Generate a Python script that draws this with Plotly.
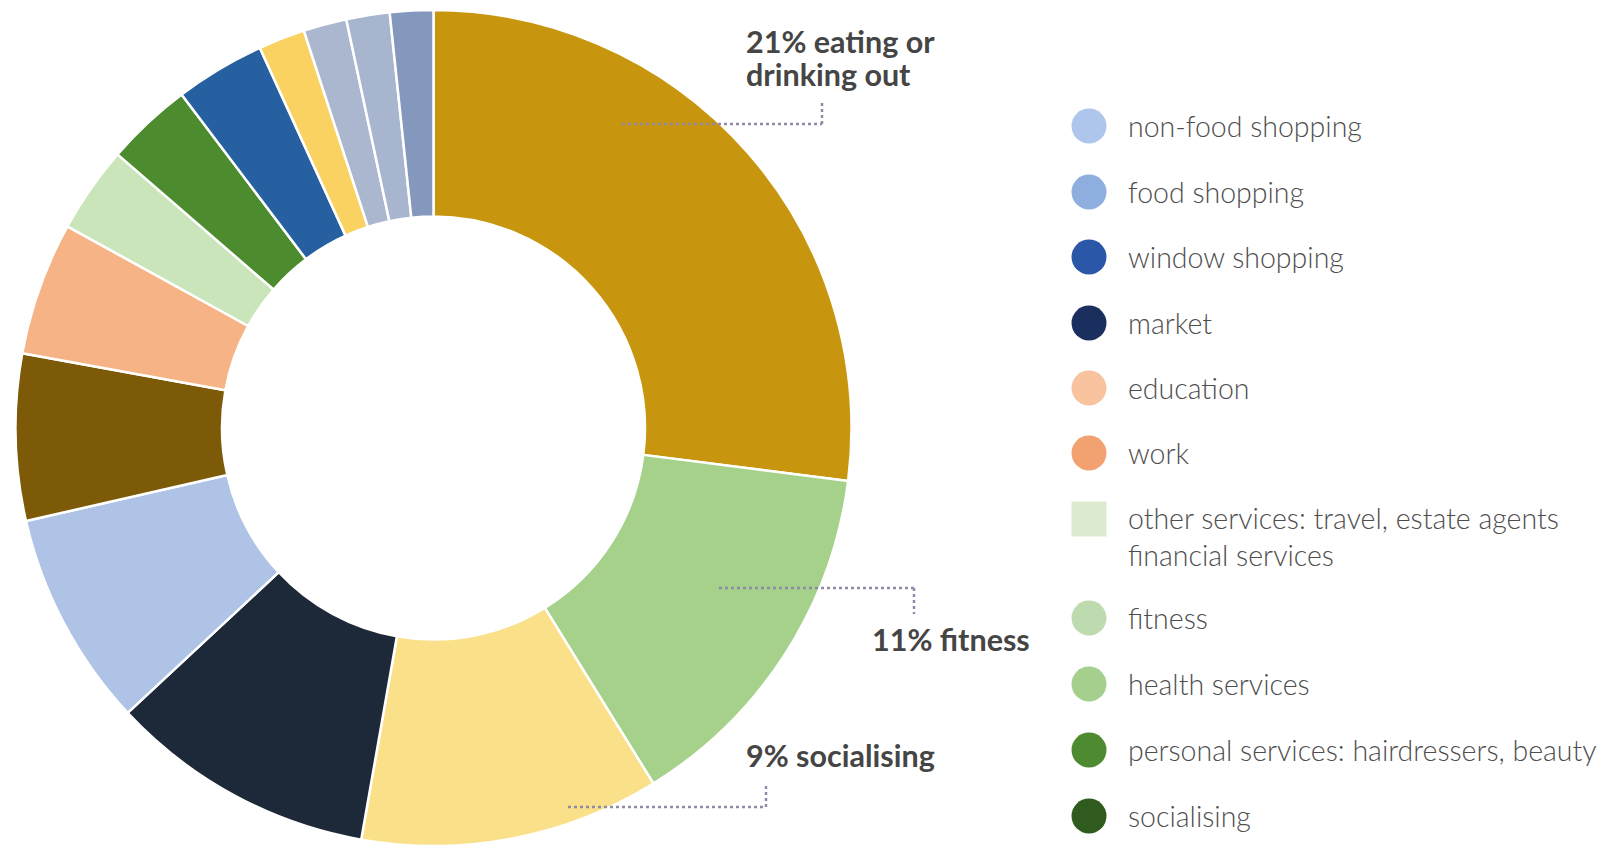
import plotly.graph_objects as go

# Donut slices, clockwise from 12 o'clock
slice_names = [
    "eating or drinking out", "fitness", "socialising", "market",
    "non-food shopping", "leisure", "education", "other services",
    "personal services", "window shopping", "culture", "food shopping",
    "convenience", "other",
]
slice_values = [21, 11, 9, 8, 6.5, 5, 4, 2.6, 2.6, 2.7, 1.4, 1.3, 1.3, 1.3]
slice_colors = [
    "#C7960E", "#A5D18B", "#FBE08A", "#1D2838", "#AEC3E5", "#7D5A08",
    "#F6B486", "#C9E5B9", "#4C8B2E", "#2760A0", "#F9D262", "#ABB7CF",
    "#A8B5CF", "#8498BD",
]

# Legend entries on the right
legend_labels = [
    "non-food shopping", "food shopping", "window shopping", "market",
    "education", "work", "other services: travel, estate agents<br>financial services",
    "fitness", "health services", "personal services: hairdressers, beauty",
    "socialising",
]
legend_colors = [
    "#AFC6EC", "#8EAEE0", "#2B57A8", "#1B2F5E", "#F8C39E", "#F2A171",
    "#DCEBD0", "#BEDBAF", "#A4CF8D", "#4E8A2F", "#2F5B1F",
]
legend_marker = ["circle"] * 6 + ["square"] + ["circle"] * 4
legend_y = [126, 192, 257, 323, 388, 453, 519, 618, 684, 750, 816]

# Callout label lines
callout_lines = ["21% eating or", "drinking out", "11% fitness", "9% socialising"]
callout_pos = [(744, 41), (744, 74), (870, 639), (744, 755)]

W, H = 1611, 847
cx, cy, r_out = 433.5, 428, 418

fig = go.Figure()
fig.add_trace(go.Pie(
    labels=slice_names,
    values=slice_values,
    marker=dict(colors=slice_colors, line=dict(color="white", width=2.5)),
    hole=0.506,
    sort=False,
    direction="clockwise",
    rotation=0,
    textinfo="none",
    hoverinfo="label+value",
    showlegend=False,
    domain=dict(
        x=[(cx - r_out) / W, (cx + r_out) / W],
        y=[(H - cy - r_out) / H, (H - cy + r_out) / H],
    ),
))

shapes = []
annotations = []

# Legend markers and text
lx, lr, tx = 1089, 17.5, 1126
for lab, col, mk, y in zip(legend_labels, legend_colors, legend_marker, legend_y):
    shapes.append(dict(
        type="circle" if mk == "circle" else "rect", xref="x", yref="y",
        x0=lx - lr, x1=lx + lr, y0=y - lr, y1=y + lr,
        fillcolor=col, line=dict(width=0), layer="above",
    ))
    two_line = "<br>" in lab
    annotations.append(dict(
        x=tx, y=(y + 17) if two_line else y, xref="x", yref="y",
        text=lab, showarrow=False, xanchor="left", yanchor="middle",
        align="left",
        font=dict(family="Lato", size=28.5, color="#4e4e4e", weight=300),
    ))

# Dotted leader lines
dot = dict(color="#8f8aa8", width=2.5, dash="dot")
leaders = [
    [(622, 124), (822, 124), (822, 101)],
    [(719, 588), (914, 588), (914, 614)],
    [(568, 807), (766, 807), (766, 786)],
]
for pts in leaders:
    for (x0, y0), (x1, y1) in zip(pts[:-1], pts[1:]):
        shapes.append(dict(type="line", xref="x", yref="y",
                           x0=x0, y0=y0, x1=x1, y1=y1, line=dot, layer="above"))

label_font = dict(family="Lato", size=30.5, color="#454545", weight=700)
for txt, (x, y) in zip(callout_lines, callout_pos):
    annotations.append(dict(x=x, y=y, xref="x", yref="y", text=txt,
                            showarrow=False, xanchor="left", yanchor="middle",
                            align="left", font=label_font))

fig.update_layout(
    width=W, height=H,
    margin=dict(l=0, r=0, t=0, b=0),
    paper_bgcolor="white", plot_bgcolor="rgba(0,0,0,0)",
    xaxis=dict(range=[0, W], visible=False, fixedrange=True),
    yaxis=dict(range=[H, 0], visible=False, fixedrange=True),
    shapes=shapes,
    annotations=annotations,
    showlegend=False,
)

fig.write_html("out.html")
